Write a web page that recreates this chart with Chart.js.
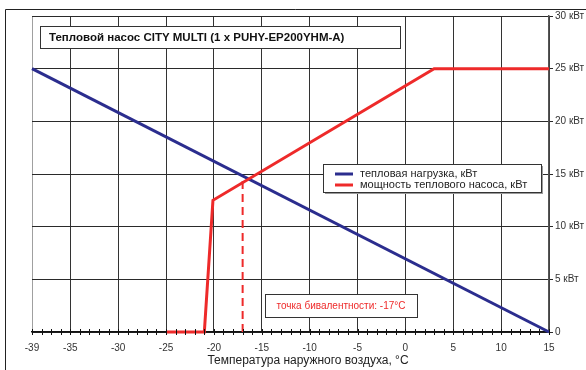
<!DOCTYPE html>
<html lang="ru">
<head>
<meta charset="utf-8">
<script src="https://cdn.jsdelivr.net/npm/chart.js@4.4.1/dist/chart.umd.min.js"></script>
<style>
  html, body { margin: 0; padding: 0; background: #fff; }
  #wrap { width: 586px; height: 370px; }
</style>
</head>
<body>
<div id="wrap"><canvas id="chart" width="586" height="370"></canvas></div>
<script>
// Heat load of the building, kW, against outdoor temperature, °C
const loadTemps = [-39, 15];
const loadKW = [25, 0];

// Heat pump output, kW
const pumpTemps = [-25, -21, -20.1, 3, 15];
const pumpKW = [0, 0, 12.5, 25, 25];

// Bivalent point
const bivalentTemp = -17;
const bivalentKW = 14.8;

// Axis ticks
const xTickValues = [-39, -35, -30, -25, -20, -15, -10, -5, 0, 5, 10, 15];
const yTickValues = [0, 5, 10, 15, 20, 25, 30];

const chartTitle = 'Тепловой насос CITY MULTI (1 x PUHY-EP200YHM-A)';
const xTitle = 'Температура наружного воздуха, °C';
const loadLabel = 'тепловая нагрузка, кВт';
const pumpLabel = 'мощность теплового насоса, кВт';
const bivalentLabel = 'точка бивалентности: ' + bivalentTemp + '°C';

const BLUE = '#2b2d8e';
const RED = '#ee2a2a';
const FONT = '"Liberation Sans", Arial, sans-serif';

const toPoints = (xs, ys) => xs.map((x, i) => ({ x, y: ys[i] }));

function box(ctx, x, y, w, h, shadow) {
  if (shadow) {
    ctx.fillStyle = '#9a9a9a';
    ctx.fillRect(x + 2, y + 2, w, h);
  }
  ctx.fillStyle = '#fff';
  ctx.fillRect(x, y, w, h);
  ctx.strokeStyle = '#333';
  ctx.lineWidth = 1;
  ctx.strokeRect(x + 0.5, y + 0.5, w, h);
}

const decorations = {
  id: 'decorations',
  beforeDraw(chart) {
    const ctx = chart.ctx;
    ctx.save();
    ctx.fillStyle = '#fff';
    ctx.fillRect(0, 0, chart.width, chart.height);
    // page frame
    ctx.strokeStyle = '#222';
    ctx.lineWidth = 1;
    ctx.beginPath();
    ctx.moveTo(5.5, chart.height);
    ctx.lineTo(5.5, 9.5);
    ctx.lineTo(chart.width, 9.5);
    ctx.stroke();
    ctx.restore();
  },
  afterDatasetsDraw(chart) {
    const ctx = chart.ctx;
    const xs = chart.scales.x;
    const ys = chart.scales.y;
    const base = ys.getPixelForValue(0);
    ctx.save();

    // minor ticks on the temperature axis, one per degree
    ctx.strokeStyle = '#111';
    ctx.lineWidth = 1;
    ctx.beginPath();
    for (let t = xs.min; t <= xs.max; t++) {
      const px = Math.round(xs.getPixelForValue(t)) + 0.5;
      ctx.moveTo(px, base - 3);
      ctx.lineTo(px, base + 3);
    }
    ctx.stroke();

    // title box
    box(ctx, 40, 26, 360, 22, false);
    ctx.fillStyle = '#111';
    ctx.font = 'bold 11.5px ' + FONT;
    ctx.textBaseline = 'middle';
    ctx.textAlign = 'left';
    ctx.fillText(chartTitle, 49, 37.5);

    // legend
    box(ctx, 323, 164, 218, 28, true);
    const ds = chart.data.datasets;
    ctx.font = '11px ' + FONT;
    [[ds[0], 174], [ds[1], 185]].forEach(([d, y]) => {
      ctx.strokeStyle = d.borderColor;
      ctx.lineWidth = 3;
      ctx.beginPath();
      ctx.moveTo(335, y);
      ctx.lineTo(353, y);
      ctx.stroke();
      ctx.fillStyle = '#222';
      ctx.fillText(d.label, 360, y);
    });

    // bivalent point note
    box(ctx, 265, 294, 152, 23, false);
    ctx.fillStyle = RED;
    ctx.font = '10px ' + FONT;
    ctx.textAlign = 'center';
    ctx.fillText(bivalentLabel, 341, 306);

    // axis title
    ctx.fillStyle = '#222';
    ctx.font = '12px ' + FONT;
    ctx.fillText(xTitle, 308, 361);
    ctx.restore();
  }
};

new Chart(document.getElementById('chart'), {
  type: 'line',
  data: {
    datasets: [
      {
        label: loadLabel,
        data: toPoints(loadTemps, loadKW),
        borderColor: BLUE,
        borderWidth: 3,
        pointRadius: 0,
        tension: 0,
        clip: 4,
        order: 1
      },
      {
        label: pumpLabel,
        data: toPoints(pumpTemps, pumpKW),
        borderColor: RED,
        borderWidth: 3,
        pointRadius: 0,
        tension: 0,
        clip: 4,
        order: 0
      },
      {
        label: 'bivalent',
        data: [{ x: bivalentTemp, y: 0 }, { x: bivalentTemp, y: bivalentKW }],
        borderColor: RED,
        borderWidth: 2,
        borderDash: [8, 5],
        pointRadius: 0,
        order: 2
      }
    ]
  },
  options: {
    responsive: false,
    animation: false,
    devicePixelRatio: 1,
    layout: { padding: { left: 32, top: 16, right: 0, bottom: 0 } },
    plugins: {
      legend: { display: false },
      tooltip: { enabled: false },
      title: { display: false }
    },
    scales: {
      x: {
        type: 'linear',
        position: 'bottom',
        min: -39,
        max: 15,
        afterBuildTicks(scale) {
          scale.ticks = xTickValues.map(v => ({ value: v }));
        },
        afterFit(scale) { scale.height = 38; },
        grid: {
          color: ctx => (ctx.tick && ctx.tick.value === -39 ? '#a0a0a0' : '#333'),
          lineWidth: 1,
          drawTicks: false
        },
        border: { display: true, color: '#111', width: 1.5 },
        ticks: {
          color: '#333',
          font: { family: FONT, size: 10 },
          padding: 10,
          maxRotation: 0,
          autoSkip: false,
          callback: v => String(v)
        }
      },
      y: {
        type: 'linear',
        position: 'right',
        min: 0,
        max: 30,
        afterBuildTicks(scale) {
          scale.ticks = yTickValues.map(v => ({ value: v }));
        },
        afterFit(scale) { scale.width = 37; },
        grid: {
          color: '#2a2a2a',
          lineWidth: 1,
          drawTicks: true,
          tickLength: 4
        },
        border: { display: true, color: '#555', width: 1.5 },
        ticks: {
          color: '#333',
          font: { family: FONT, size: 10 },
          padding: 2,
          callback: v => (v === 0 ? '0' : v + ' кВт')
        }
      }
    }
  },
  plugins: [decorations]
});
</script>
</body>
</html>
